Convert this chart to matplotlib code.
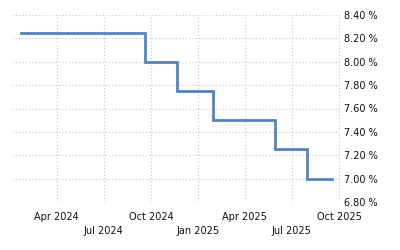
import matplotlib
matplotlib.use("Agg")
import matplotlib.pyplot as plt
import matplotlib.dates as mdates
import matplotlib.ticker as mticker
from datetime import datetime

dates = ["2024-01-22", "2024-09-19", "2024-11-21", "2025-01-30",
         "2025-05-29", "2025-07-31", "2025-09-17"]
rates = [8.25, 8.00, 7.75, 7.50, 7.25, 7.00, 7.00]

major_ticks = ["2024-04-01", "2024-10-01", "2025-04-01", "2025-10-01"]
minor_ticks = ["2024-07-01", "2025-01-01", "2025-07-01"]
y_ticks = [6.80, 7.00, 7.20, 7.40, 7.60, 7.80, 8.00, 8.20, 8.40]

x = [datetime.fromisoformat(d) for d in dates]

plt.rcParams['font.family'] = ['DejaVu Sans']
fig = plt.figure(figsize=(4, 2.5), dpi=100)
ax = fig.add_axes([0.03, 0.192, 0.82, 0.748])

ax.plot(x, rates, drawstyle='steps-post', color='#5285c0', lw=2.0,
        solid_joinstyle='miter')

ax.set_xlim(datetime(2024, 1, 5), datetime(2025, 10, 3))
ax.set_ylim(6.80, 8.40)

ax.xaxis.set_major_locator(mticker.FixedLocator(
    [mdates.date2num(datetime.fromisoformat(d)) for d in major_ticks]))
ax.xaxis.set_minor_locator(mticker.FixedLocator(
    [mdates.date2num(datetime.fromisoformat(d)) for d in minor_ticks]))
ax.xaxis.set_major_formatter(mdates.DateFormatter('%b %Y'))
ax.xaxis.set_minor_formatter(mdates.DateFormatter('%b %Y'))

ax.set_yticks(y_ticks)
ax.yaxis.set_major_formatter(mticker.FuncFormatter(lambda v, p: f"{v:.2f} %"))
ax.yaxis.tick_right()

ax.tick_params(axis='x', which='major', length=0, pad=7, labelsize=7, labelcolor='#111111')
ax.tick_params(axis='x', which='minor', length=0, pad=17.5, labelsize=7, labelcolor='#111111')
ax.tick_params(axis='y', length=0, pad=3, labelsize=7, labelcolor='#111111')

for s in ax.spines.values():
    s.set_visible(False)

ax.grid(True, which='both', color='#c8c8c8', linestyle=(0, (1, 2)), linewidth=0.8)
ax.set_axisbelow(True)

fig.savefig("out.png", dpi=100)
